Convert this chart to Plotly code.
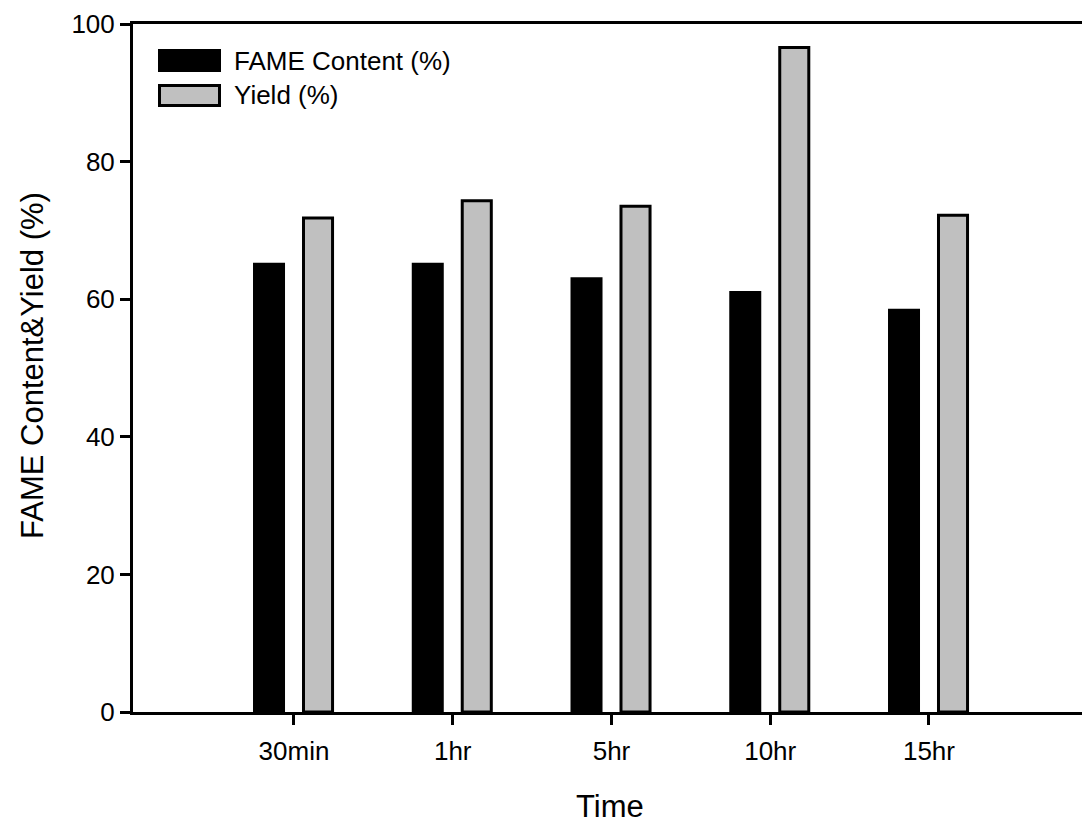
import plotly.graph_objects as go

# Reaction time categories and measured values
times = ["30min", "1hr", "5hr", "10hr", "15hr"]
fame_content = [65.3, 65.3, 63.2, 61.2, 58.6]
yield_pct = [71.8, 74.3, 73.5, 96.6, 72.2]
y_ticks = [0, 20, 40, 60, 80, 100]

FONT = "Liberation Sans, Arial, sans-serif"
W, H = 1082, 824
ML, MR, MT, MB = 133, 0, 24, 112
PW, PH = W - ML - MR, H - MT - MB


def px_x(px):
    return (px - ML) / PW


def px_y(py):
    return (H - MB - py) / PH


fig = go.Figure()
fig.add_trace(go.Bar(
    x=times, y=fame_content, name="FAME Content (%)",
    width=0.2016, offset=-0.258,
    marker=dict(color="black", line=dict(width=0)),
    showlegend=False,
))
fig.add_trace(go.Bar(
    x=times, y=yield_pct, name="Yield (%)",
    width=0.183, offset=0.06,
    marker=dict(color="#c0c0c0", line=dict(color="black", width=3)),
    showlegend=False,
))

# Legend drawn as boxed swatches with labels
shapes = [
    dict(type="rect", xref="paper", yref="paper",
         x0=px_x(158), x1=px_x(221), y0=px_y(72), y1=px_y(49),
         fillcolor="black", line=dict(width=0)),
    dict(type="rect", xref="paper", yref="paper",
         x0=px_x(159.5), x1=px_x(219.5), y0=px_y(105.5), y1=px_y(85.5),
         fillcolor="#c0c0c0", line=dict(color="black", width=3)),
]
annotations = [
    dict(text="FAME Content (%)", xref="paper", yref="paper",
         x=px_x(232), y=px_y(61), xanchor="left", yanchor="middle",
         showarrow=False, font=dict(family=FONT, size=26, color="black")),
    dict(text="Yield (%)", xref="paper", yref="paper",
         x=px_x(232), y=px_y(95), xanchor="left", yanchor="middle",
         showarrow=False, font=dict(family=FONT, size=26, color="black")),
    dict(text="FAME Content&Yield (%)", xref="paper", yref="paper",
         x=px_x(32), y=px_y(366), xanchor="center", yanchor="middle",
         textangle=-90, showarrow=False,
         font=dict(family=FONT, size=31, color="black")),
    dict(text="Time", xref="paper", yref="paper",
         x=px_x(610), y=px_y(807), xanchor="center", yanchor="middle",
         showarrow=False, font=dict(family=FONT, size=31, color="black")),
]

fig.update_layout(
    width=W, height=H,
    margin=dict(l=ML, r=MR, t=MT, b=MB, pad=0),
    paper_bgcolor="white", plot_bgcolor="white",
    shapes=shapes, annotations=annotations,
    font=dict(family=FONT, color="black"),
    xaxis=dict(
        type="category", categoryorder="array", categoryarray=times,
        range=[-1.014, 4.964],
        showline=True, linecolor="black", linewidth=3, mirror=True,
        ticks="outside", ticklen=10, tickwidth=3, tickcolor="black",
        ticklabelstandoff=4,
        showgrid=False, zeroline=False,
        tickfont=dict(family=FONT, size=26, color="black"),
    ),
    yaxis=dict(
        range=[0, 100], tickvals=y_ticks,
        showline=True, linecolor="black", linewidth=3, mirror=False,
        ticks="outside", ticklen=10, tickwidth=3, tickcolor="black",
        showgrid=False, zeroline=False,
        tickfont=dict(family=FONT, size=26, color="black"),
    ),
)

fig.write_html("out.html")
